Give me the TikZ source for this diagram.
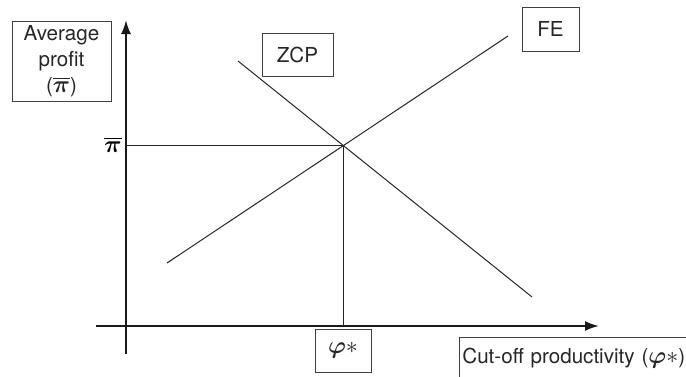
\documentclass[tikz,border=0pt]{standalone}
\usepackage{amsmath}
\usepackage{fontspec}
\setmainfont{TeX Gyre Heros}
\usetikzlibrary{arrows.meta}
\newcommand\mth[1]{{\fontsize{12.5}{13}\selectfont$#1$}}
\begin{document}
\begin{tikzpicture}[x=0.5pt,y=-0.5pt,font=\fontsize{10.3}{13}\selectfont]
  \useasboundingbox (0,0) rectangle (686,376);
  % axes and curve end points
  \coordinate (ybot) at (126,354);
  \coordinate (ytop) at (126,20);
  \coordinate (xbeg) at (96,326);
  \coordinate (xend) at (599,326);
  \coordinate (eq) at (343,145);
  \coordinate (pibar) at (126,145);
  \coordinate (phistar) at (343,326);
  \coordinate (zcpa) at (238,61);
  \coordinate (zcpb) at (532,297);
  \coordinate (fea) at (167,263);
  \coordinate (feb) at (508,36);
  \begin{scope}[every node/.style={draw=black!75,thin,inner sep=0pt,align=center,text=black!85}]
  \node[minimum width=49.5pt,minimum height=40pt] (prof) at (61.5,61) {Average\\profit\\(\mth{\overline{\boldsymbol{\pi}}})};
  \node[minimum width=35.5pt,minimum height=21.5pt] (zcp) at (297.5,54.5) {ZCP};
  \node[minimum width=28.5pt,minimum height=22pt] (fe) at (550.5,29) {FE};
  \node[minimum width=28pt,minimum height=21.5pt] (phi) at (343,350.5) {\mth{\boldsymbol{\varphi}*}};
  \node[anchor=west,inner xsep=1.5pt,text width=112pt,align=left,minimum height=21pt] (cutoff) at (459,358) {Cut-off productivity (\mth{\boldsymbol{\varphi}*})};
  \end{scope}
  \node[anchor=east,inner sep=2pt] (pilab) at (pibar) {\mth{\overline{\boldsymbol{\pi}}}};
  \begin{scope}[every edge/.style={draw=black!90,line width=1pt}]
  \path (ybot) edge[-{Latex[length=7pt,width=5pt]}] (ytop);
  \path (xbeg) edge[-{Latex[length=7pt,width=5pt]}] (xend);
  \end{scope}
  \begin{scope}[every edge/.style={draw=black!85,line width=0.5pt}]
  \path (pibar) edge (eq);
  \path (eq) edge (phistar);
  \path (zcpa) edge (zcpb);
  \path (fea) edge (feb);
  \end{scope}
\end{tikzpicture}
\end{document}
